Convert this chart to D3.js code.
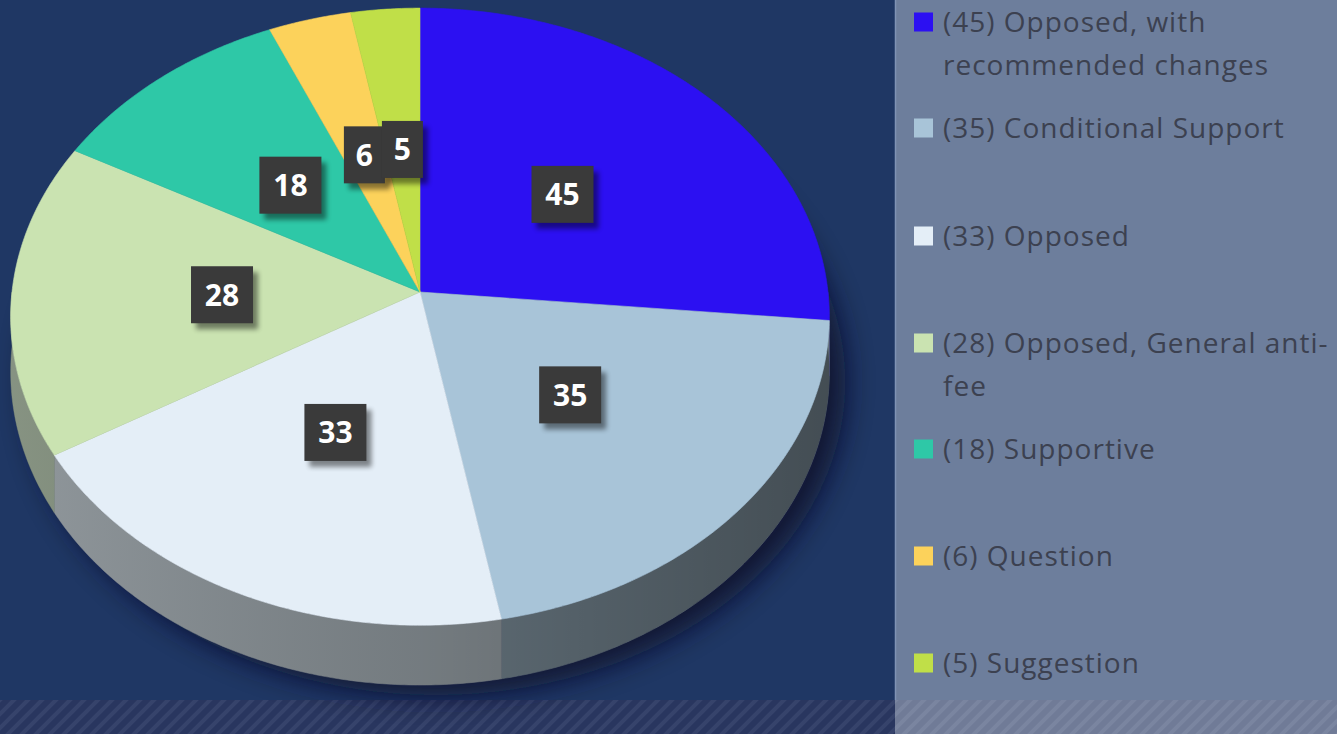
<!DOCTYPE html>
<html>
<head>
<meta charset="utf-8">
<script src="https://cdn.jsdelivr.net/npm/d3@7"></script>
<style>
  html, body { margin: 0; padding: 0; background: #1f3764; overflow: hidden; }
  svg { display: block; }
</style>
</head>
<body>
<script>
// values
const categories = ["Opposed, with recommended changes", "Conditional Support", "Opposed",
                    "Opposed, General anti-fee", "Supportive", "Question", "Suggestion"];
const values = [45, 35, 33, 28, 18, 6, 5];
const legendLines = [["(45) Opposed, with", "recommended changes"],
                     ["(35) Conditional Support"],
                     ["(33) Opposed"],
                     ["(28) Opposed, General anti-", "fee"],
                     ["(18) Supportive"],
                     ["(6) Question"],
                     ["(5) Suggestion"]];
const colors = ["#2c10f2", "#a8c4d8", "#e4eef7", "#cae3b1", "#2ec8a7", "#fcd25b", "#c0df48"];

const width = 1337, height = 734;
const panelX = 895, bandY = 700;

// tilted pie geometry
const cx = 420, cy = 292, rx = 408, ry = 306.6, persp = 0.08, depth = 55;

function proj(a, r, z) {
    const u = r * Math.sin(a), v = -r * Math.cos(a);
    const f = 1 / (1 - persp * v);
    return [cx + rx * u * f, cy + ry * v * f + z * f];
}
function arcPts(a0, a1, r, z) {
    const n = Math.max(2, Math.ceil(Math.abs(a1 - a0) / 0.01));
    return d3.range(n + 1).map(i => proj(a0 + (a1 - a0) * i / n, r, z));
}

const svg = d3.select("body").append("svg")
    .attr("width", width)
    .attr("height", height);

const defs = svg.append("defs");

defs.append("filter").attr("id", "blur")
    .attr("x", "-20%").attr("y", "-20%").attr("width", "140%").attr("height", "140%")
    .append("feGaussianBlur").attr("stdDeviation", 14);

defs.append("filter").attr("id", "boxshadow")
    .attr("x", "-50%").attr("y", "-50%").attr("width", "200%").attr("height", "200%")
    .append("feGaussianBlur").attr("stdDeviation", 2.5);

const leftPat = defs.append("pattern").attr("id", "stripesL")
    .attr("patternUnits", "userSpaceOnUse").attr("width", 14).attr("height", 14);
leftPat.append("rect").attr("width", 14).attr("height", 14).attr("fill", "#29365f");
leftPat.append("path").attr("d", "M-2,16 L16,-2 M-9,9 L9,-9 M5,23 L23,5")
    .attr("stroke", "#36436b").attr("stroke-width", 4);

const rightPat = defs.append("pattern").attr("id", "stripesR")
    .attr("patternUnits", "userSpaceOnUse").attr("width", 14).attr("height", 14);
rightPat.append("rect").attr("width", 14).attr("height", 14).attr("fill", "#707b97");
rightPat.append("path").attr("d", "M-2,16 L16,-2 M-9,9 L9,-9 M5,23 L23,5")
    .attr("stroke", "#7a85a0").attr("stroke-width", 4);

const sideShade = defs.append("linearGradient").attr("id", "sideShade")
    .attr("gradientUnits", "userSpaceOnUse")
    .attr("x1", cx - rx).attr("y1", 0).attr("x2", cx + rx).attr("y2", 0);
sideShade.append("stop").attr("offset", 0).attr("stop-color", "#ffffff").attr("stop-opacity", 0.12);
sideShade.append("stop").attr("offset", 0.5).attr("stop-color", "#000000").attr("stop-opacity", 0.1);
sideShade.append("stop").attr("offset", 1).attr("stop-color", "#000000").attr("stop-opacity", 0.35);

// backgrounds
svg.append("rect").attr("width", panelX).attr("height", bandY).attr("fill", "#1f3764");
svg.append("rect").attr("x", panelX).attr("width", width - panelX).attr("height", bandY).attr("fill", "#6d7e9c");
svg.append("line").attr("x1", panelX + 0.5).attr("x2", panelX + 0.5).attr("y1", 0).attr("y2", bandY)
    .attr("stroke", "#7f92b4").attr("stroke-width", 1.5);
svg.append("rect").attr("y", bandY).attr("width", panelX).attr("height", height - bandY).attr("fill", "url(#stripesL)");
svg.append("rect").attr("x", panelX).attr("y", bandY).attr("width", width - panelX).attr("height", height - bandY).attr("fill", "url(#stripesR)");

const line = d3.line();
const pie = d3.pie().sort(null).value(d => d);
const arcs = pie(values);

// drop shadow under the pie
const chart = svg.append("g");
chart.append("path")
    .attr("d", line(arcPts(0, 2 * Math.PI, 1, depth)) + "Z")
    .attr("transform", "translate(16,10)")
    .attr("fill", "#081128")
    .attr("opacity", 0.8)
    .attr("filter", "url(#blur)");

// sides (front half only)
const sides = chart.append("g").attr("class", "sides");
arcs.forEach(function(d, i) {
    const s = Math.max(d.startAngle, Math.PI / 2);
    const e = Math.min(d.endAngle, 3 * Math.PI / 2);
    if (e <= s) return;
    const pts = arcPts(s, e, 1, 0).concat(arcPts(e, s, 1, depth));
    const c = d3.interpolateRgb(colors[i], "#3a3f42")(0.58);
    sides.append("path")
        .attr("d", line(pts) + "Z")
        .attr("fill", c)
        .attr("stroke", c)
        .attr("stroke-width", 0.5);
});
sides.append("path")
    .attr("d", line(arcPts(Math.PI / 2, 3 * Math.PI / 2, 1, 0).concat(arcPts(3 * Math.PI / 2, Math.PI / 2, 1, depth))) + "Z")
    .attr("fill", "url(#sideShade)");

// top faces
chart.append("g").attr("class", "tops")
    .selectAll("path")
    .data(arcs)
    .enter()
    .append("path")
    .attr("d", d => line([proj(0, 0, 0)].concat(arcPts(d.startAngle, d.endAngle, 1, 0))) + "Z")
    .attr("fill", (d, i) => colors[i])
    .attr("stroke", (d, i) => colors[i])
    .attr("stroke-width", 0.6);

// data labels
const labels = chart.append("g").attr("class", "labels")
    .selectAll("g")
    .data(arcs)
    .enter()
    .append("g")
    .attr("transform", function(d) {
        const p = proj((d.startAngle + d.endAngle) / 2, 0.485, 0);
        return "translate(" + p[0] + "," + p[1] + ")";
    });

labels.each(function(d) {
    const g = d3.select(this);
    const w = String(d.value).length > 1 ? 62 : 41, h = 57;
    g.append("rect")
        .attr("x", -w / 2 + 5).attr("y", -h / 2 + 6)
        .attr("width", w).attr("height", h)
        .attr("fill", "#000").attr("opacity", 0.45)
        .attr("filter", "url(#boxshadow)");
    g.append("rect")
        .attr("x", -w / 2).attr("y", -h / 2)
        .attr("width", w).attr("height", h)
        .attr("fill", "#3a3a3a");
    g.append("text")
        .attr("y", 11)
        .attr("text-anchor", "middle")
        .style("font-family", "'Open Sans', sans-serif")
        .style("font-weight", "bold")
        .style("font-size", "30px")
        .attr("fill", "#ffffff")
        .text(d.value);
});

// legend
const legendY = [22, 128, 236, 343, 449, 556, 663];
const legend = svg.append("g").attr("class", "legend")
    .selectAll("g")
    .data(legendLines)
    .enter()
    .append("g")
    .attr("transform", (d, i) => "translate(914," + legendY[i] + ")");

legend.append("rect")
    .attr("x", 0).attr("y", -9.5)
    .attr("width", 19).attr("height", 19)
    .attr("fill", (d, i) => colors[i]);

legend.append("text")
    .style("font-family", "'Open Sans', sans-serif")
    .style("font-size", "28px")
    .style("letter-spacing", "1px")
    .attr("fill", "#3c4150")
    .selectAll("tspan")
    .data(d => d)
    .enter()
    .append("tspan")
    .attr("x", 29)
    .attr("y", (t, j) => 10 + j * 43)
    .text(t => t);
</script>
</body>
</html>
